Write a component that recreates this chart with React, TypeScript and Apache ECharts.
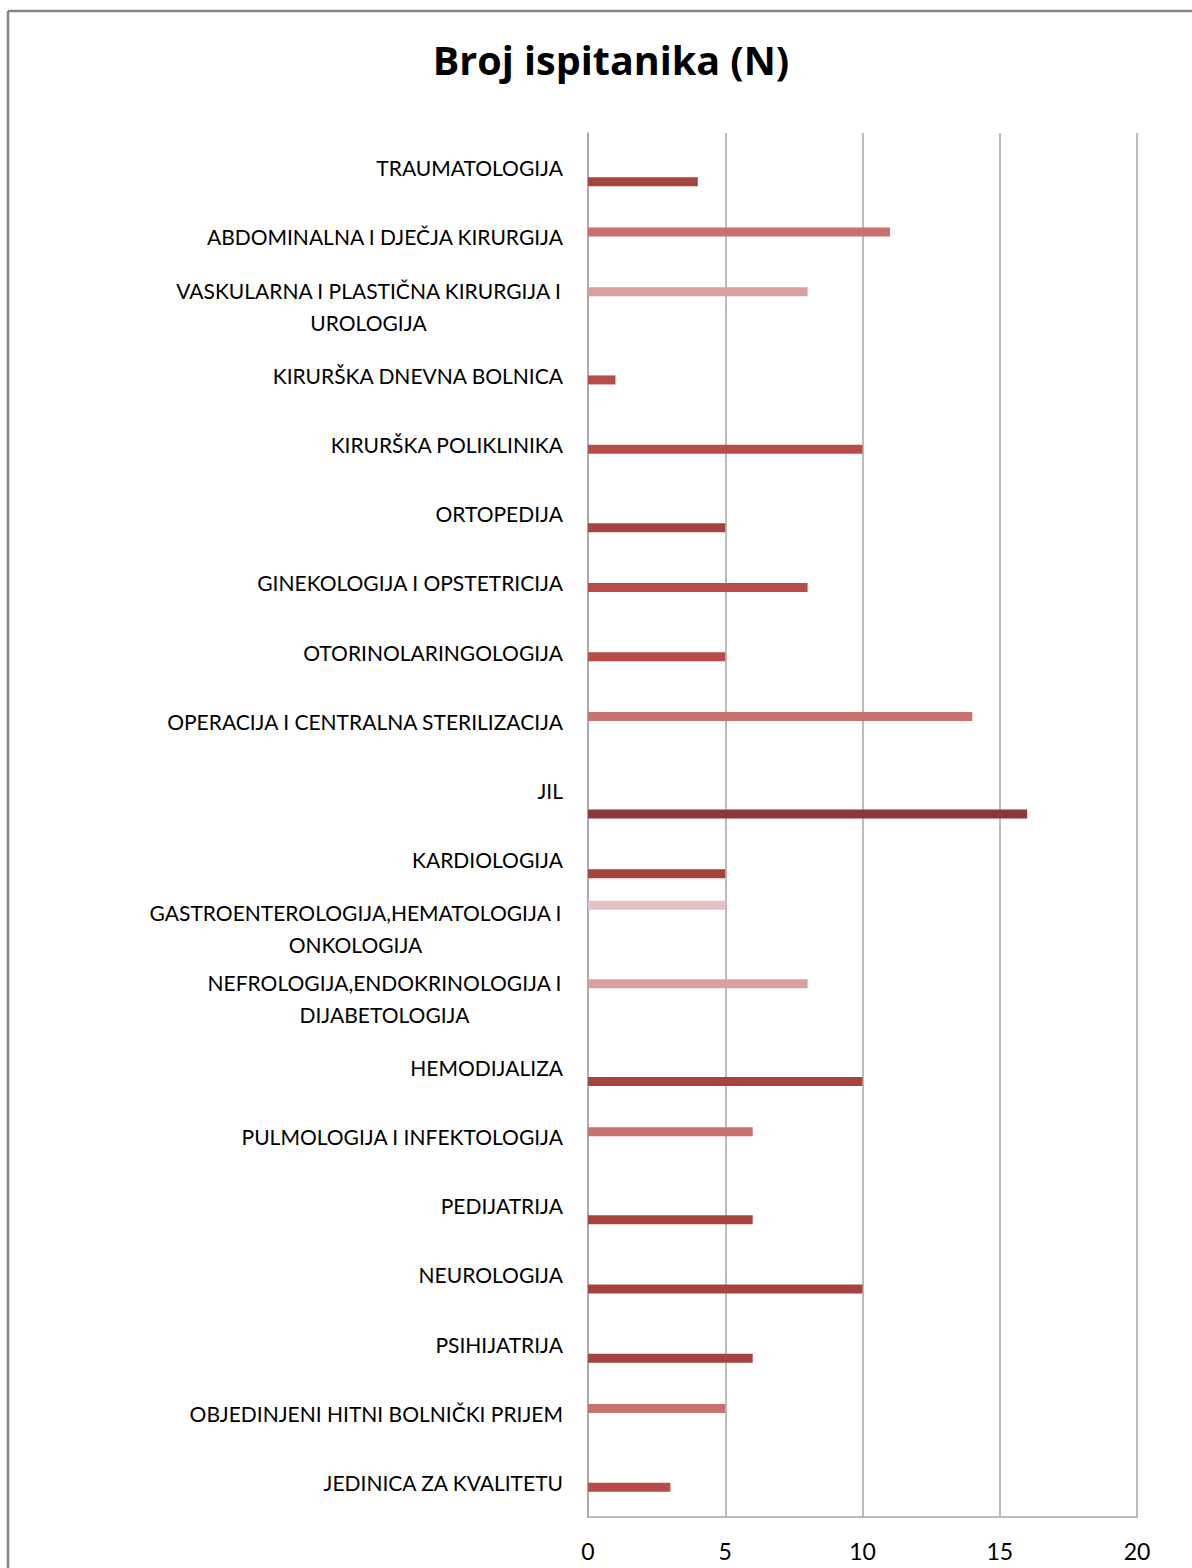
import React, { useEffect, useRef } from "react";
import * as echarts from "echarts";

const titleText = "Broj ispitanika (N)";

const categories = [
  "TRAUMATOLOGIJA",
  "ABDOMINALNA I DJEČJA KIRURGIJA",
  "VASKULARNA I PLASTIČNA KIRURGIJA I\nUROLOGIJA",
  "KIRURŠKA DNEVNA BOLNICA",
  "KIRURŠKA POLIKLINIKA",
  "ORTOPEDIJA",
  "GINEKOLOGIJA I OPSTETRICIJA",
  "OTORINOLARINGOLOGIJA",
  "OPERACIJA I CENTRALNA STERILIZACIJA",
  "JIL",
  "KARDIOLOGIJA",
  "GASTROENTEROLOGIJA,HEMATOLOGIJA I\nONKOLOGIJA",
  "NEFROLOGIJA,ENDOKRINOLOGIJA I\nDIJABETOLOGIJA",
  "HEMODIJALIZA",
  "PULMOLOGIJA I INFEKTOLOGIJA",
  "PEDIJATRIJA",
  "NEUROLOGIJA",
  "PSIHIJATRIJA",
  "OBJEDINJENI HITNI BOLNIČKI PRIJEM",
  "JEDINICA ZA KVALITETU",
];

const values = [4, 11, 8, 1, 10, 5, 8, 5, 14, 16, 5, 5, 8, 10, 6, 6, 10, 6, 5, 3];

// which of the six series (slot within the category band) each value belongs to
const seriesOfCategory = [4, 2, 1, 3, 3, 4, 3, 3, 2, 5, 4, 0, 1, 4, 2, 4, 4, 4, 2, 3];

const seriesNames = ["Serija 1", "Serija 2", "Serija 3", "Serija 4", "Serija 5", "Serija 6"];
const seriesColors = ["#E4C1C2", "#D9A0A0", "#C8716E", "#B94B48", "#A5433F", "#8C3838"];

const xTicks = { min: 0, max: 20, interval: 5 };

const LABEL_FONT = "Lato";
const LABEL_SIZE = 21;

export default function App() {
  const ref = useRef<HTMLDivElement>(null);

  useEffect(() => {
    if (!ref.current) return;
    const chart = echarts.init(ref.current, undefined, { renderer: "svg" });

    // measure multi-line labels so that their lines can be centred within the block
    const canvas = document.createElement("canvas");
    const ctx = canvas.getContext("2d")!;
    ctx.font = `${LABEL_SIZE}px "${LABEL_FONT}"`;
    const rich: Record<string, any> = {};
    const labelMap: Record<string, string> = {};
    categories.forEach((c, i) => {
      if (c.includes("\n")) {
        const lines = c.split("\n");
        const w = Math.ceil(Math.max(...lines.map((l) => ctx.measureText(l).width))) + 2;
        const key = "m" + i;
        rich[key] = {
          width: w,
          align: "center",
          fontSize: LABEL_SIZE,
          fontFamily: LABEL_FONT,
          color: "#000",
          lineHeight: 32,
        };
        labelMap[c] = lines.map((l) => `{${key}|${l}}`).join("\n");
      }
    });

    const series = seriesNames.map((name, s) => ({
      name,
      type: "bar",
      barWidth: 9,
      barGap: "5%",
      itemStyle: { color: seriesColors[s] },
      data: values.map((v, i) => (seriesOfCategory[i] === s ? v : null)),
    }));

    chart.setOption({
      animation: false,
      title: {
        text: titleText,
        left: 606,
        textAlign: "center",
        top: 35,
        textStyle: {
          fontFamily: "Open Sans",
          fontWeight: "bold",
          fontSize: 39.5,
          color: "#000",
        },
      },
      grid: { left: 588, right: 55, top: 133, bottom: 51, containLabel: false },
      xAxis: {
        type: "value",
        min: xTicks.min,
        max: xTicks.max,
        interval: xTicks.interval,
        axisLine: { show: true, lineStyle: { color: "#A6A6A6", width: 1.5 } },
        axisTick: { show: false },
        splitLine: { show: true, lineStyle: { color: "#A6A6A6", width: 1.5 } },
        axisLabel: {
          fontFamily: LABEL_FONT,
          fontSize: 23,
          color: "#000",
          margin: 22,
        },
      },
      yAxis: {
        type: "category",
        data: categories,
        inverse: true,
        axisLine: { show: true, lineStyle: { color: "#A6A6A6", width: 1.5 } },
        axisTick: { show: false },
        splitLine: { show: false },
        axisLabel: {
          interval: 0,
          fontFamily: LABEL_FONT,
          fontSize: LABEL_SIZE,
          color: "#000",
          margin: 25,
          align: "right",
          lineHeight: 32,
          formatter: (v: string) => labelMap[v] ?? v,
          rich,
        },
      },
      graphic: [
        {
          type: "line",
          shape: { x1: 8, y1: 11, x2: 1192, y2: 11 },
          style: { stroke: "#868686", lineWidth: 2.5 },
        },
        {
          type: "line",
          shape: { x1: 8, y1: 11, x2: 8, y2: 1568 },
          style: { stroke: "#868686", lineWidth: 2.5 },
        },
      ],
      series,
    });

    return () => chart.dispose();
  }, []);

  return (
    <div
      ref={ref}
      style={{ position: "fixed", left: 0, top: 0, width: 1192, height: 1568, background: "#fff" }}
    />
  );
}
